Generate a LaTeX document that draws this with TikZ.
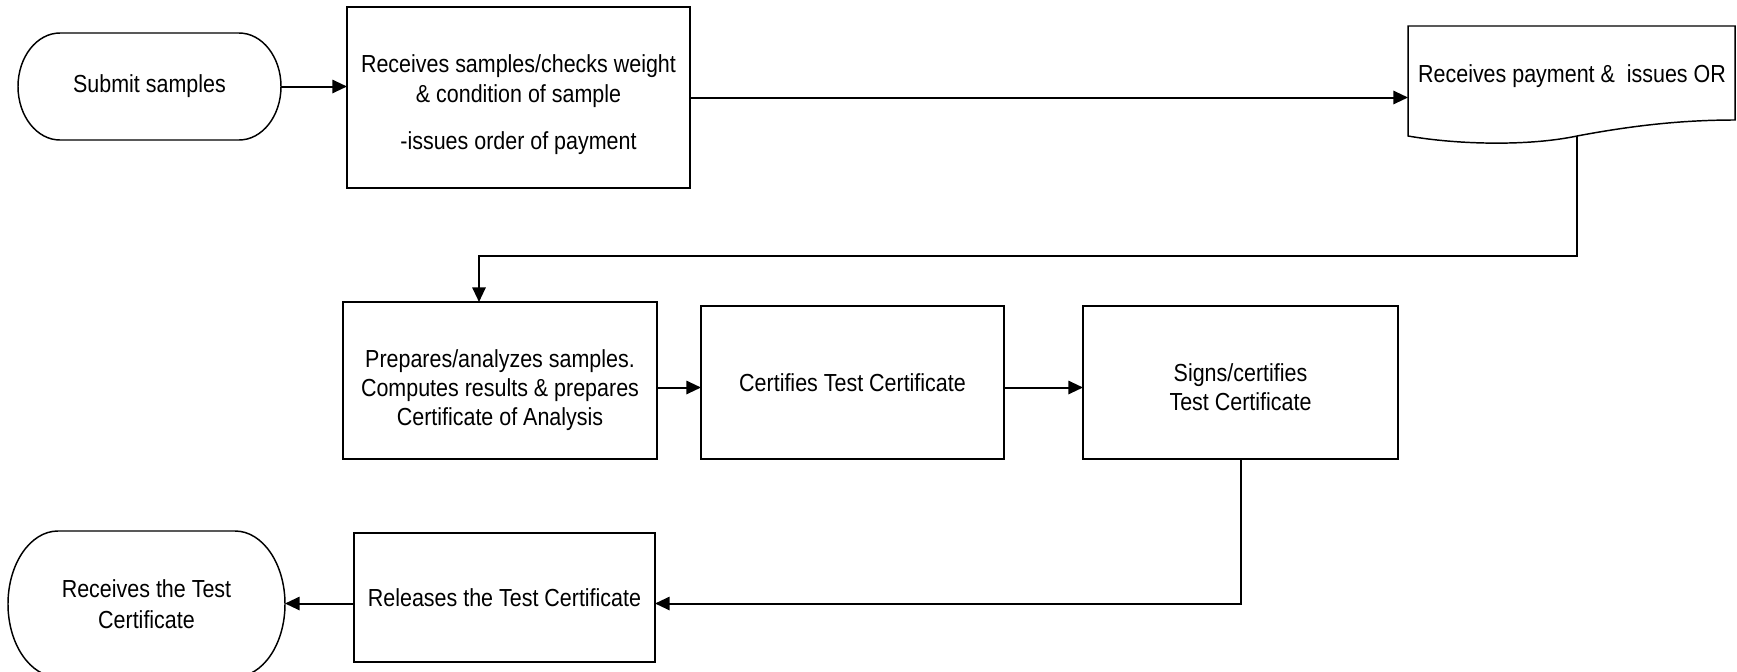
\documentclass[tikz,border=0pt]{standalone}
\usepackage{fontspec}
\setmainfont{Liberation Sans}[FakeStretch=0.87]
\usetikzlibrary{arrows.meta,calc}

\begin{document}
\begin{tikzpicture}[x=0.75pt,y=0.75pt,yscale=-1,xscale=1,
  every node/.style={font=\fontsize{18.5}{21.5}\selectfont, align=center},
  procbox/.style={draw, line width=1.5pt, inner sep=0pt, outer sep=0pt},
  termbox/.style={inner sep=0pt, outer sep=0pt},
  termline/.style={line width=1.1pt},
  flow/.style={line width=1.5pt, -{Triangle[length=11pt,width=10pt]}}]
\useasboundingbox (0,0) rectangle (1737,671);

% Terminal Nodes
\node [termbox, minimum width=197.25pt, minimum height=80.25pt] (sub) at (149.5,86.5) {Submit samples};
\draw [termline] ($(sub.north west)+(42,0)$) -- ($(sub.north east)+(-42,0)$) arc[start angle=-90, end angle=90, x radius=31.5pt, y radius=40.125pt] -- ($(sub.south west)+(42,0)$) arc[start angle=90, end angle=270, x radius=31.5pt, y radius=40.125pt] -- cycle;

\node [termbox, minimum width=207.75pt, minimum height=109.5pt] (recv2) at (146.5,604) {Receives the Test\\[1.5pt]Certificate};
\draw [termline] ($(recv2.north west)+(50,0)$) -- ($(recv2.north east)+(-50,0)$) arc[start angle=-90, end angle=90, x radius=37.5pt, y radius=54.75pt] -- ($(recv2.south west)+(50,0)$) arc[start angle=90, end angle=270, x radius=37.5pt, y radius=54.75pt] -- cycle;

% Process Nodes
\node [procbox, minimum width=257.25pt, minimum height=135.75pt] (recv) at (518.5,97.5) {\rule{0pt}{24pt}Receives samples/checks weight\\[1pt]\& condition of sample\\[13.5pt]-issues order of payment};
\node [procbox, minimum width=235.5pt, minimum height=117.75pt] (prep) at (500,380.5) {\rule{0pt}{28pt}Prepares/analyzes samples.\\Computes results \& prepares\\Certificate of Analysis};
\node [procbox, minimum width=227.25pt, minimum height=114.75pt] (cert) at (852.5,382.5) {Certifies Test Certificate};
\node [procbox, minimum width=236.25pt, minimum height=114.75pt] (sign) at (1240.5,382.5) {\rule{0pt}{20pt}Signs/certifies\\Test Certificate};
\node [procbox, minimum width=225.75pt, minimum height=96.75pt] (rel) at (504.5,597.5) {Releases the Test Certificate};

% Document Shape
\coordinate (docNW) at (1408,26);
\coordinate (docNE) at (1735,26);
\coordinate (docSE) at (1735,120);
\coordinate (docSW) at (1408,136);
\coordinate (docout) at (1577,136);
\draw [termline] (docNW) -- (docNE) -- (docSE) .. controls (1680,120) and (1630,126) .. (docout) .. controls (1530,146) and (1460,145) .. (docSW) -- cycle;
\node (pay) at (1572,76) {Receives payment \&\ \ issues OR};

% Connectors
\coordinate (r2) at ($(prep.east)+(0,7)$);
\coordinate (r3) at ($(rel.east)+(0,6)$);
\draw [flow] (sub.east) -- (sub.east -| recv.west);
\draw [flow] (recv.east) -- (recv.east -| docNW);
\draw [flow] (docout) |- ($(prep.north)+(-21,-46)$) -- ($(prep.north)+(-21,0)$);
\draw [flow] (r2) -- (r2 -| cert.west);
\draw [flow] (r2 -| cert.east) -- (r2 -| sign.west);
\draw [flow] (sign.south) |- (r3);
\draw [flow] (r3 -| rel.west) -- (r3 -| recv2.east);

\end{tikzpicture}
\end{document}
